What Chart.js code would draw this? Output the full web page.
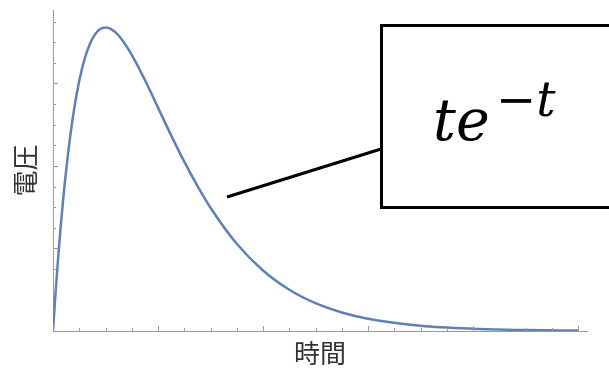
<!DOCTYPE html>
<html><head><meta charset="utf-8">
<script src="https://cdn.jsdelivr.net/npm/chart.js@4.4.1/dist/chart.umd.min.js"></script>
<style>html,body{margin:0;padding:0;background:#fff;overflow:hidden}canvas{display:block}</style>
</head><body>
<canvas id="c" width="609" height="369"></canvas>
<script>
// time (x) and voltage (y)
const timeValues    = [0, 0.02, 0.05, 0.1, 0.15, 0.2, 0.3, 0.4, 0.5, 0.6, 0.7, 0.8, 0.9, 1.0, 1.1, 1.25, 1.5, 1.75, 2.0, 2.25, 2.5, 2.75, 3.0, 3.5, 4.0, 4.5, 5.0, 5.5, 6.0, 7.0, 8.0, 9.0, 10.0];
const voltageValues = [0, 0.0196, 0.0476, 0.0905, 0.1291, 0.1637, 0.2222, 0.2681, 0.3033, 0.3293, 0.3476, 0.3595, 0.3659, 0.3679, 0.3662, 0.3581, 0.3347, 0.3041, 0.2707, 0.2371, 0.2052, 0.1759, 0.1494, 0.1057, 0.0733, 0.0500, 0.0337, 0.0225, 0.0149, 0.0064, 0.0027, 0.0011, 0.0005];
const xTickValues = [0, 0.5, 1, 1.5, 2, 2.5, 3, 3.5, 4, 4.5, 5, 5.5, 6, 6.5, 7, 7.5, 8, 8.5, 9, 9.5, 10];
const xMajorTicks = [0, 2, 4, 6, 8, 10];
const yTickValues = [0, 0.025, 0.05, 0.075, 0.1, 0.125, 0.15, 0.175, 0.2, 0.225, 0.25, 0.275, 0.3, 0.325, 0.35, 0.375];
const yMajorTicks = [0, 0.1, 0.2, 0.3];
const xAxisTitle = '時間';
const yAxisTitle = '電圧';
const formulaBase = 'te';
const formulaSup = '−t';

const points = timeValues.map((t, i) => ({x: t, y: voltageValues[i]}));

const axisColor = '#9a9a9a';

const tickPlugin = {
  id: 'innerTicks',
  afterDraw(chart) {
    const ctx = chart.ctx;
    const xs = chart.scales.x, ys = chart.scales.y;
    const area = chart.chartArea;
    ctx.save();
    ctx.strokeStyle = axisColor;
    ctx.lineWidth = 1;
    xTickValues.forEach(v => {
      const px = Math.round(xs.getPixelForValue(v)) + 0.5;
      const len = xMajorTicks.includes(v) ? 5 : 3;
      ctx.beginPath(); ctx.moveTo(px, area.bottom); ctx.lineTo(px, area.bottom - len); ctx.stroke();
    });
    yTickValues.forEach(v => {
      const py = Math.round(ys.getPixelForValue(v)) + 0.5;
      const len = yMajorTicks.includes(v) ? 5 : 3;
      ctx.beginPath(); ctx.moveTo(area.left, py); ctx.lineTo(area.left + len, py); ctx.stroke();
    });
    ctx.restore();
  }
};

const annotationPlugin = {
  id: 'formulaBox',
  afterDraw(chart) {
    const ctx = chart.ctx;
    ctx.save();
    ctx.strokeStyle = '#000';
    ctx.lineWidth = 3;
    ctx.beginPath(); ctx.moveTo(227, 197); ctx.lineTo(381, 149); ctx.stroke();
    ctx.strokeRect(381.5, 25.5, 260, 182);
    ctx.fillStyle = '#000';
    ctx.textBaseline = 'alphabetic';
    ctx.font = 'italic 57px "DejaVu Serif"';
    ctx.fillText(formulaBase, 433, 140);
    ctx.font = 'italic 48px "DejaVu Serif"';
    ctx.fillText(formulaSup, 496, 116);
    ctx.restore();
  }
};

new Chart(document.getElementById('c'), {
  type: 'line',
  data: {
    datasets: [{
      data: points,
      borderColor: '#5e81b5',
      borderWidth: 2.5,
      pointRadius: 0,
      fill: false,
      cubicInterpolationMode: 'monotone'
    }]
  },
  options: {
    responsive: false,
    animation: false,
    devicePixelRatio: 1,
    layout: {padding: {top: 10, right: 22, left: 0, bottom: 0}},
    plugins: {legend: {display: false}, tooltip: {enabled: false}},
    scales: {
      x: {
        type: 'linear', min: 0, max: 10.17,
        grid: {display: false},
        border: {display: true, color: axisColor, width: 1},
        ticks: {display: false},
        title: {display: true, text: xAxisTitle, color: '#333',
                font: {family: '"Noto Sans CJK JP"', size: 26}, padding: {top: 0, bottom: 0}},
        afterFit(scale) { scale.height = 38; }
      },
      y: {
        type: 'linear', min: 0, max: 0.389,
        grid: {display: false},
        border: {display: true, color: axisColor, width: 1},
        ticks: {display: false},
        title: {display: true, text: yAxisTitle, color: '#333',
                font: {family: '"Noto Sans CJK JP"', size: 26}, padding: {top: 10, bottom: 0}},
        afterFit(scale) { scale.width = 53; }
      }
    }
  },
  plugins: [tickPlugin, annotationPlugin]
});
</script>
</body></html>
